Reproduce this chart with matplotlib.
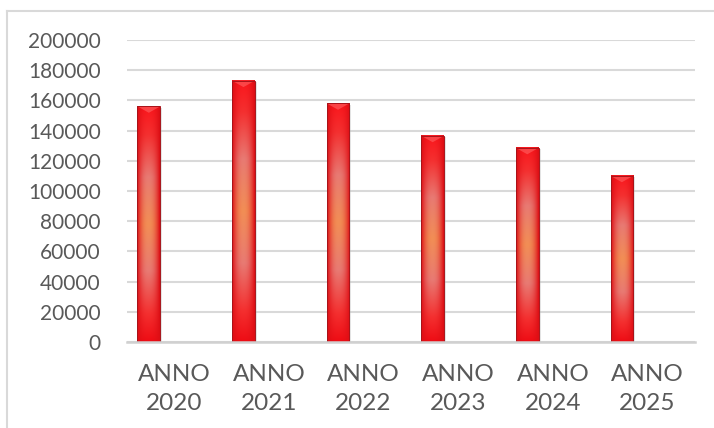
import matplotlib.pyplot as plt
from matplotlib.patches import Rectangle, Polygon
from matplotlib.lines import Line2D
import numpy as np

plt.rcParams['font.family'] = ['Lato', 'DejaVu Sans']

years = ["ANNO\n2020", "ANNO\n2021", "ANNO\n2022", "ANNO\n2023", "ANNO\n2024", "ANNO\n2025"]
values = [156000, 173000, 158000, 136500, 128500, 110000]
yticks = [0, 20000, 40000, 60000, 80000, 100000, 120000, 140000, 160000, 180000, 200000]

# red -> salmon -> orange -> salmon -> red, bottom to top
stops = [0.0, 0.12, 0.3, 0.5, 0.7, 0.88, 1.0]
cols = np.array([[238, 12, 20], [244, 48, 48], [232, 122, 115], [242, 142, 85],
                 [232, 122, 115], [244, 48, 48], [250, 22, 28]]) / 255.0
edge_red = np.array([220, 14, 20]) / 255.0


def bar_gradient(ny=256, nx=48):
    t = np.linspace(0, 1, ny)
    prof = np.stack([np.interp(t, stops, cols[:, k]) for k in range(3)], axis=1)
    x = np.linspace(0, 1, nx)
    c = 1 - np.abs(2 * x - 1) ** 2.2
    img = edge_red[None, None, :] * (1 - c[None, :, None]) + prof[:, None, :] * c[None, :, None]
    return img[::-1]  # imshow origin is top


fig = plt.figure(figsize=(7.14, 4.28), dpi=100)
ax = fig.add_axes([0.178, 0.201, 0.795, 0.7056])

grad = bar_gradient()
width = 0.24
offset = -0.27
tri_h = 4200
for i, v in enumerate(values):
    x0 = i + offset - width / 2
    x1 = x0 + width
    # soft shadow
    ax.add_patch(Rectangle((x0 + 0.02, 0), width, v - 800, color='#b0b0b0',
                           alpha=0.35, lw=0, zorder=2))
    ax.imshow(grad, extent=(x0, x1, 0, v), aspect='auto', zorder=3,
              interpolation='bilinear')
    ax.add_patch(Polygon([(x0, v), (x1, v), ((x0 + x1) / 2, v - tri_h)],
                         closed=True, color='#ff6a6a', alpha=0.55, lw=0, zorder=4))
    ax.add_patch(Rectangle((x0, 0), width, v, fill=False, ec='#a8141a',
                           lw=0.7, zorder=5))

ax.set_xlim(-0.5, 5.5)
ax.set_ylim(0, 200000)
ax.set_yticks(yticks)
ax.set_yticklabels([str(t) for t in yticks])
ax.set_xticks(range(len(years)))
ax.set_xticklabels(years, linespacing=1.45)

ax.grid(axis='y', color='#d9d9d9', lw=1.5, zorder=0)
ax.set_axisbelow(True)
for s in ['top', 'right', 'left']:
    ax.spines[s].set_visible(False)
ax.spines['bottom'].set_color('#d0d0d0')
ax.spines['bottom'].set_linewidth(1.8)
ax.spines['bottom'].set_zorder(6)

ax.tick_params(axis='y', length=0, pad=19, labelsize=15, labelcolor='#595959')
ax.tick_params(axis='x', length=0, pad=16, labelsize=17.5, labelcolor='#595959')

# chart frame
fig.add_artist(Line2D([7 / 714, 7 / 714], [0, 1 - 11 / 428], color='#d9d9d9', lw=1.5))
fig.add_artist(Line2D([7 / 714, 1], [1 - 11 / 428, 1 - 11 / 428], color='#d9d9d9', lw=1.5))

fig.savefig("out.png", dpi=100)
